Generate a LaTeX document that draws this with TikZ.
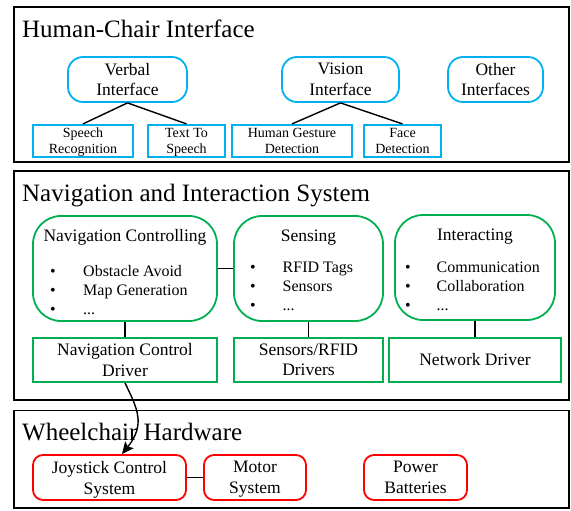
\documentclass[tikz,border=0pt]{standalone}
\usepackage{fontspec}
\setmainfont{Liberation Serif}
\usetikzlibrary{arrows.meta}

\definecolor{ifblue}{RGB}{0,176,240}
\definecolor{navgreen}{RGB}{0,176,80}
\definecolor{hwred}{RGB}{255,0,0}

\tikzset{
  layer/.style={draw=black, line width=1.9pt},
  layertitle/.style={anchor=base west, inner sep=0pt, font=\fontsize{25}{30}\selectfont},
  ifround/.style={draw=ifblue, line width=1.8pt, rounded corners=15pt, align=center,
    inner sep=0pt, font=\fontsize{17.5}{20.5}\selectfont},
  ifbox/.style={draw=ifblue, line width=1.8pt, align=center, inner sep=0pt,
    text depth=0pt, font=\fontsize{14}{16}\selectfont},
  modround/.style={draw=navgreen, line width=1.8pt, rounded corners=28pt, inner sep=0pt},
  modbox/.style={draw=navgreen, line width=1.8pt, align=center, inner sep=0pt,
    font=\fontsize{17.5}{20.5}\selectfont},
  modtitle/.style={anchor=base, inner sep=0pt, font=\fontsize{17.5}{20}\selectfont},
  listdot/.style={anchor=base, inner sep=0pt, font=\fontsize{16}{19}\selectfont},
  listtext/.style={anchor=base west, inner sep=0pt, font=\fontsize{16}{19}\selectfont},
  hwround/.style={draw=hwred, line width=1.8pt, rounded corners=10pt, align=center,
    inner sep=0pt, text depth=0pt, font=\fontsize{17.5}{21}\selectfont},
  link/.style={draw=black, line width=1.4pt},
}

\begin{document}
\begin{tikzpicture}[x=1pt, y=-1pt]
\useasboundingbox (0,0) rectangle (571,511);

% ---------- layer frames ----------
\draw[layer] (14,7) rectangle (569,162);
\draw[layer] (14,171) rectangle (569,400);
\draw[layer] (14,410.5) rectangle (569,508);

\node[layertitle] (t1) at (22,37.5) {Human-Chair Interface};
\node[layertitle] (t2) at (22,201) {Navigation and Interaction System};
\node[layertitle] (t3) at (22,440) {Wheelchair Hardware};

% ---------- human-chair interface ----------
\node[ifround, minimum width=119, minimum height=45] (verbal) at (127.5,79.5) {Verbal\\Interface};
\node[ifround, minimum width=117, minimum height=45] (vision) at (340.5,79.5) {Vision\\Interface};
\node[ifround, minimum width=95, minimum height=45] (other) at (495.5,79.5) {Other\\Interfaces};

\node[ifbox, minimum width=100, minimum height=32] (sr) at (83,140.8) {Speech\\Recognition};
\node[ifbox, minimum width=77, minimum height=32] (tts) at (186.5,140.8) {Text To\\Speech};
\node[ifbox, minimum width=120, minimum height=32] (hgd) at (292,140.8) {Human Gesture\\Detection};
\node[ifbox, minimum width=77, minimum height=32] (face) at (402.5,140.8) {Face\\Detection};

\draw[link] (verbal.south) -- (sr.north);
\draw[link] (verbal.south) -- (tts.north);
\draw[link] (vision.south) -- (hgd.north);
\draw[link] (vision.south) -- (face.north);

% ---------- navigation and interaction ----------
\node[modround, minimum width=184, minimum height=105] (nav) at (125,268.5) {};
\node[modround, minimum width=149, minimum height=105] (sens) at (308.5,268.5) {};
\node[modround, minimum width=160, minimum height=105] (inter) at (475,267.5) {};

\node[modtitle] (navt) at (125,241.7) {Navigation Controlling};
\node[modtitle] (senst) at (308.5,241.7) {Sensing};
\node[modtitle] (intert) at (475,240.7) {Interacting};

\node[listdot] (nd1) at (53,276.5) {•};
\node[listdot] (nd2) at (53,295.5) {•};
\node[listdot] (nd3) at (53,314.5) {•};
\node[listtext] (ni1) at (83,276.5) {Obstacle Avoid};
\node[listtext] (ni2) at (83,295.5) {Map Generation};
\node[listtext] (ni3) at (83,314.5) {...};

\node[listdot] (sd1) at (253,272) {•};
\node[listdot] (sd2) at (253,291) {•};
\node[listdot] (sd3) at (253,310) {•};
\node[listtext] (si1) at (282.5,272) {RFID Tags};
\node[listtext] (si2) at (282.5,291) {Sensors};
\node[listtext] (si3) at (282.5,310) {...};

\node[listdot] (id1) at (408,272) {•};
\node[listdot] (id2) at (408,291) {•};
\node[listdot] (id3) at (408,310) {•};
\node[listtext] (ii1) at (436.5,272) {Communication};
\node[listtext] (ii2) at (436.5,291) {Collaboration};
\node[listtext] (ii3) at (436.5,310) {...};

\node[modbox, minimum width=184, minimum height=44] (ncd) at (125,360) {Navigation Control\\Driver};
\node[modbox, minimum width=149, minimum height=44] (srd) at (308.5,360) {Sensors/RFID\\Drivers};
\node[modbox, minimum width=172, minimum height=44] (netd) at (475,360) {Network Driver};

\draw[link] (nav.east) -- (sens.west);
\draw[link] (nav.south) -- (ncd.north);
\draw[link] (sens.south) -- (srd.north);
\draw[link] (inter.south) -- (netd.north);

% ---------- wheelchair hardware ----------
\node[hwround, minimum width=153, minimum height=45] (joy) at (109.5,477.5) {Joystick Control\\System};
\node[hwround, minimum width=102, minimum height=45] (motor) at (255,477.5) {Motor\\System};
\node[hwround, minimum width=103, minimum height=45] (power) at (415.5,477.5) {Power\\Batteries};

\draw[link] (joy.east) -- (motor.west);

% driver command down to the joystick controller
\draw[link, -{Stealth[length=12pt, width=11pt, inset=2.5pt]}]
  (ncd.south) .. controls +(12,25) and +(24,-30) .. ([xshift=-3pt]ncd.south |- joy.north);
\end{tikzpicture}
\end{document}
